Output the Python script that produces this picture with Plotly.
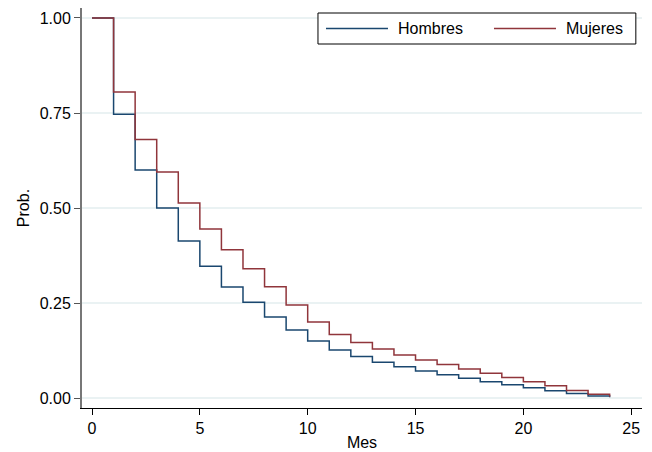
import plotly.graph_objects as go

mes = list(range(0, 25))
hombres = [1.0, 0.747, 0.600, 0.500, 0.413, 0.347, 0.292, 0.252, 0.213, 0.179,
           0.150, 0.126, 0.109, 0.094, 0.082, 0.071, 0.061, 0.052, 0.043, 0.035,
           0.027, 0.019, 0.012, 0.005, 0.002]
mujeres = [1.0, 0.805, 0.680, 0.595, 0.513, 0.445, 0.390, 0.340, 0.293, 0.245,
           0.200, 0.167, 0.146, 0.129, 0.113, 0.100, 0.088, 0.076, 0.065, 0.054,
           0.043, 0.032, 0.020, 0.010, 0.004]
series_names = ["Hombres", "Mujeres"]
x_ticks = [0, 5, 10, 15, 20, 25]
y_ticks = [0, 0.25, 0.5, 0.75, 1.0]
y_tick_labels = ["0.00", "0.25", "0.50", "0.75", "1.00"]

blue = "#1a476f"
red = "#90353b"
font = "Liberation Sans, Arial, sans-serif"

fig = go.Figure()
fig.add_trace(go.Scatter(x=mes, y=hombres, mode="lines", line_shape="hv",
                         name=series_names[0], line=dict(color=blue, width=1.5),
                         showlegend=False))
fig.add_trace(go.Scatter(x=mes, y=mujeres, mode="lines", line_shape="hv",
                         name=series_names[1], line=dict(color=red, width=1.5),
                         showlegend=False))

# custom legend (paper coordinates)
fig.add_shape(type="rect", xref="paper", yref="paper", x0=0.4214, x1=0.989,
              y0=0.91, y1=0.9875, line=dict(color="black", width=1),
              fillcolor="white", layer="above")
for (x0, x1, tx, c, nm) in [(0.4357, 0.5464, 0.5643, blue, series_names[0]),
                            (0.7357, 0.8464, 0.8643, red, series_names[1])]:
    fig.add_shape(type="line", xref="paper", yref="paper", x0=x0, x1=x1,
                  y0=0.9488, y1=0.9488, line=dict(color=c, width=1.5), layer="above")
    fig.add_annotation(xref="paper", yref="paper", x=tx, y=0.9488, text=nm,
                       showarrow=False, xanchor="left", yanchor="middle",
                       xshift=-2, font=dict(family=font, size=16, color="black"))

# the page body has an 8px margin, so the figure is sized/offset to compensate
fig.update_layout(
    width=644, height=444,
    margin=dict(l=74, r=10, t=0, b=44),
    paper_bgcolor="white", plot_bgcolor="white",
    font=dict(family=font, size=16, color="black"),
    showlegend=False,
)
fig.update_xaxes(range=[-0.464, 25.5], tickvals=x_ticks, ticks="outside", ticklen=6,
                 tickcolor="black", showline=True, linecolor="black", linewidth=1,
                 showgrid=False, zeroline=False, automargin=False,
                 title=dict(text="Mes", standoff=0, font=dict(size=16)),
                 tickfont=dict(size=16))
fig.update_yaxes(range=[-0.0263, 1.0263], tickvals=y_ticks, ticktext=y_tick_labels,
                 ticks="outside", ticklen=6, tickcolor="#555", showline=True,
                 linecolor="#777", linewidth=2, showgrid=True, gridcolor="#eaf2f3",
                 gridwidth=1.5, zeroline=False, automargin=False,
                 title=dict(text="Prob.", standoff=6, font=dict(size=16)),
                 tickfont=dict(size=16))

fig.write_html("out.html")
